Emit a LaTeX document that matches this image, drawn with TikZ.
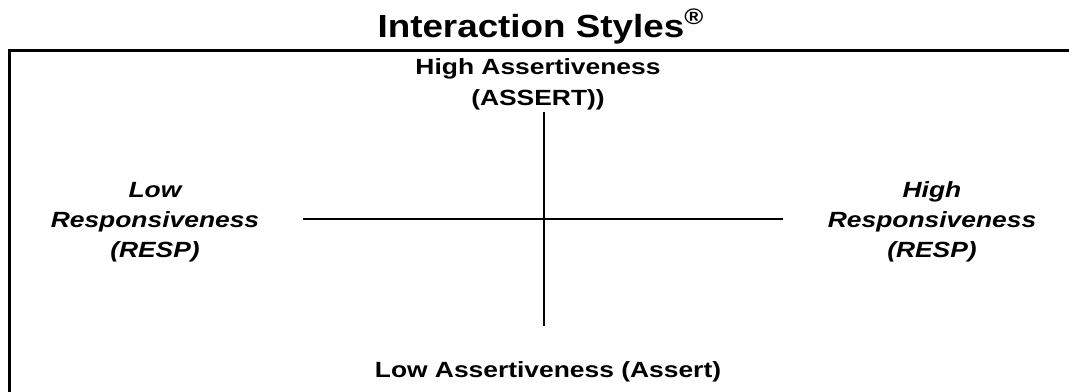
\documentclass[tikz,border=0pt]{standalone}
\usepackage{graphicx}
\usepackage{fontspec}
\setmainfont{Liberation Sans}
\usepackage{tikz}

% text in the reference is drawn a bit wider than it is high
\newcommand{\wtext}[1]{\scalebox{1.2}[1]{#1}}

\begin{document}
\begin{tikzpicture}[
                x=0.5pt, y=-0.5pt,
                every node/.style={align=center, inner sep=0pt},
                title node/.style={font=\fontsize{16}{19}\selectfont\bfseries},
                assert node/.style={font=\fontsize{11}{15.5}\selectfont\bfseries},
                resp node/.style={font=\fontsize{11}{15}\selectfont\bfseries\itshape},
                frame/.style={line width=1.5pt},
                axis/.style={-, line width=1pt}
            ]

            % Frame (cut off on the right and at the bottom)
            \clip (0,0) rectangle (1069,391);
            \draw[frame] (1080,50) -- (9,50) -- (9,400);

            % Nodes
            \node[title node, anchor=base] (title) at (541,37) {\scalebox{1.15}[1]{Interaction Styles\textsuperscript{®}}};
            \node[assert node] (highA) at (538,84) {\wtext{High Assertiveness}\\\wtext{(ASSERT))}};
            \node[assert node] (lowA) at (548,372) {\wtext{Low Assertiveness (Assert)}};
            \node[resp node] (lowR) at (155,222) {\wtext{Low}\\\wtext{Responsiveness}\\\wtext{(RESP)}};
            \node[resp node] (highR) at (932,222) {\wtext{High}\\\wtext{Responsiveness}\\\wtext{(RESP)}};

            % Axes
            \coordinate (north) at (544,112);
            \coordinate (south) at (544,326);
            \coordinate (west) at (303,219);
            \coordinate (east) at (783,219);
            \draw[axis] (north) -- (south);
            \draw[axis] (west) -- (east);

            \end{tikzpicture}
\end{document}
